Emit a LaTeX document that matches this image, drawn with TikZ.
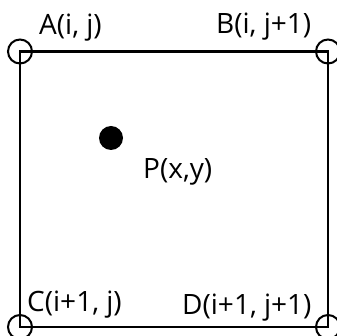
\documentclass[tikz,border=0pt]{standalone}
\usepackage{fontspec}
\setmainfont{Open Sans}
\usetikzlibrary{positioning}

\begin{document}
\begin{tikzpicture}[
        x=1pt, y=-1pt,
        font=\fontsize{28}{32}\selectfont,
        corner/.style={circle, draw, line width=2pt, minimum size=24pt, inner sep=0pt},
        dot/.style={circle, fill=black, minimum size=24pt, inner sep=0pt},
        lbl/.style={anchor=base west, inner sep=0pt},
        edge/.style={line width=2.2pt}
      ]
        \useasboundingbox (0,0) rectangle (337,336);
        \coordinate (A) at (20,51.5);
        \coordinate (B) at (328,51.5);
        \coordinate (C) at (20,327);
        \coordinate (D) at (328,327);
        \draw[edge] (A) -- (B) -- (D) -- (C) -- cycle;
        \node[corner] (ca) at (A) {};
        \node[corner] (cb) at (B) {};
        \node[corner] (cc) at (C) {};
        \node[corner] (cd) at (D) {};
        \node[dot] (p) at (111,138) {};
        \node[lbl] (la) at (39,35) {A(i, j)};
        \node[lbl] (lb) at (216,34) {B(i, j+1)};
        \node[lbl] (lc) at (27,312) {C(i+1, j)};
        \node[lbl] (ld) at (182,315) {D(i+1, j+1)};
        \node[lbl] (lp) at (143,179) {P(x,y)};
      \end{tikzpicture}
\end{document}
